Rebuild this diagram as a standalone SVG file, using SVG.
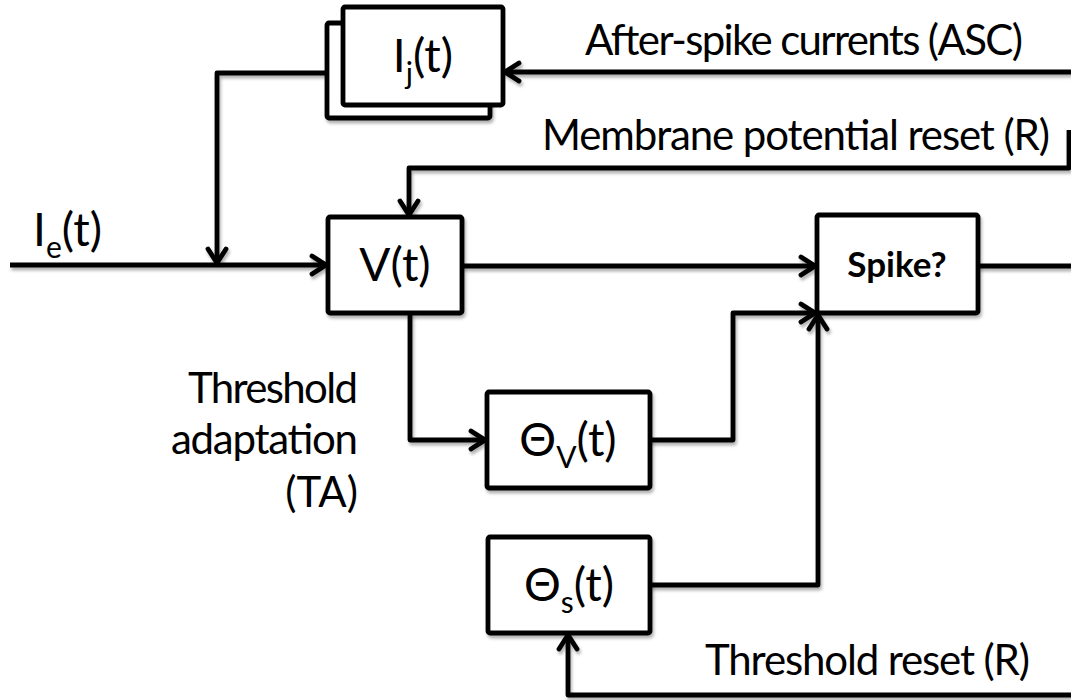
<svg xmlns="http://www.w3.org/2000/svg" width="1071" height="700" viewBox="0 0 1071 700">
<defs>
<style>
.ln{fill:none;stroke:#000;stroke-width:4.8;stroke-linejoin:round}
.bx{fill:#fff;stroke:#000;stroke-width:4.8;stroke-linejoin:round}
.t{font-family:Lato,"Open Sans","DejaVu Sans",sans-serif;fill:#000}
.lbl{font-size:42px}
.nd{font-size:46px}
.sub{font-size:30px}
.sp{font-size:35px;font-weight:bold}
</style>
<marker id="ah" viewBox="0 0 20 24" refX="17" refY="12" markerWidth="20" markerHeight="24" markerUnits="userSpaceOnUse" orient="auto">
<path d="M3,3 L17,12 L3,21" fill="none" stroke="#000" stroke-width="4.8" stroke-linecap="round" stroke-linejoin="miter"/>
</marker>
<filter id="sh" x="-10%" y="-10%" width="130%" height="130%">
<feDropShadow dx="1.5" dy="3" stdDeviation="1.8" flood-color="#000" flood-opacity="0.3"/>
</filter>
</defs>
<rect width="1071" height="700" fill="#fff"/>

<g id="connectors" filter="url(#sh)">
<path class="ln" d="M1071,72 H505" marker-end="url(#ah)"/>
<path class="ln" d="M327,73 H217 V263" marker-end="url(#ah)"/>
<path class="ln" d="M10,265 H326" marker-end="url(#ah)"/>
<path class="ln" d="M1069,130 V168 H409 V215" marker-end="url(#ah)"/>
<path class="ln" d="M462,266 H815" marker-end="url(#ah)"/>
<path class="ln" d="M978,266 H1071"/>
<path class="ln" d="M410,313 V440 H485" marker-end="url(#ah)"/>
<path class="ln" d="M650,440 H733 V313 H815" marker-end="url(#ah)"/>
<path class="ln" d="M650,585 H818 V315" marker-end="url(#ah)"/>
<path class="ln" d="M1071,695 H568 V635" marker-end="url(#ah)"/>
</g>

<g id="node-Ij">
<rect class="bx" x="327" y="23" width="163" height="95" rx="2" filter="url(#sh)"/>
<rect class="bx" x="343" y="7" width="160" height="98" rx="2"/>
<text class="t nd" x="423" y="72" text-anchor="middle">I<tspan class="sub" dy="12">j</tspan><tspan dy="-12">(t)</tspan></text>
</g>

<g id="node-V">
<rect class="bx" x="328" y="217" width="134" height="96" rx="2" filter="url(#sh)"/>
<text class="t nd" x="395" y="281" text-anchor="middle">V(t)</text>
</g>

<g id="node-Spike">
<rect class="bx" x="817" y="215" width="161" height="98" rx="2" filter="url(#sh)"/>
<text class="t sp" x="897" y="277" text-anchor="middle">Spike?</text>
</g>

<g id="node-ThetaV">
<rect class="bx" x="487" y="392" width="163" height="96" rx="2" filter="url(#sh)"/>
<text class="t nd" x="568" y="456" text-anchor="middle">Θ<tspan class="sub" dy="12">V</tspan><tspan dy="-12">(t)</tspan></text>
</g>

<g id="node-ThetaS">
<rect class="bx" x="488" y="537" width="162" height="96" rx="2" filter="url(#sh)"/>
<text class="t nd" x="569" y="601" text-anchor="middle">Θ<tspan class="sub" dy="12">s</tspan><tspan dy="-12">(t)</tspan></text>
</g>

<g id="labels">
<text class="t nd" x="33" y="246">I<tspan class="sub" dy="12">e</tspan><tspan dy="-12">(t)</tspan></text>
<text class="t lbl" x="585" y="55" textLength="438">After-spike currents (ASC)</text>
<text class="t lbl" x="542" y="150" textLength="508">Membrane potential reset (R)</text>
<text class="t lbl" x="705" y="675" textLength="325">Threshold reset (R)</text>
<text class="t lbl" x="188" y="403" textLength="170">Threshold</text>
<text class="t lbl" x="171" y="454" textLength="187">adaptation</text>
<text class="t lbl" x="358" y="507" text-anchor="end">(TA)</text>
</g>
</svg>
